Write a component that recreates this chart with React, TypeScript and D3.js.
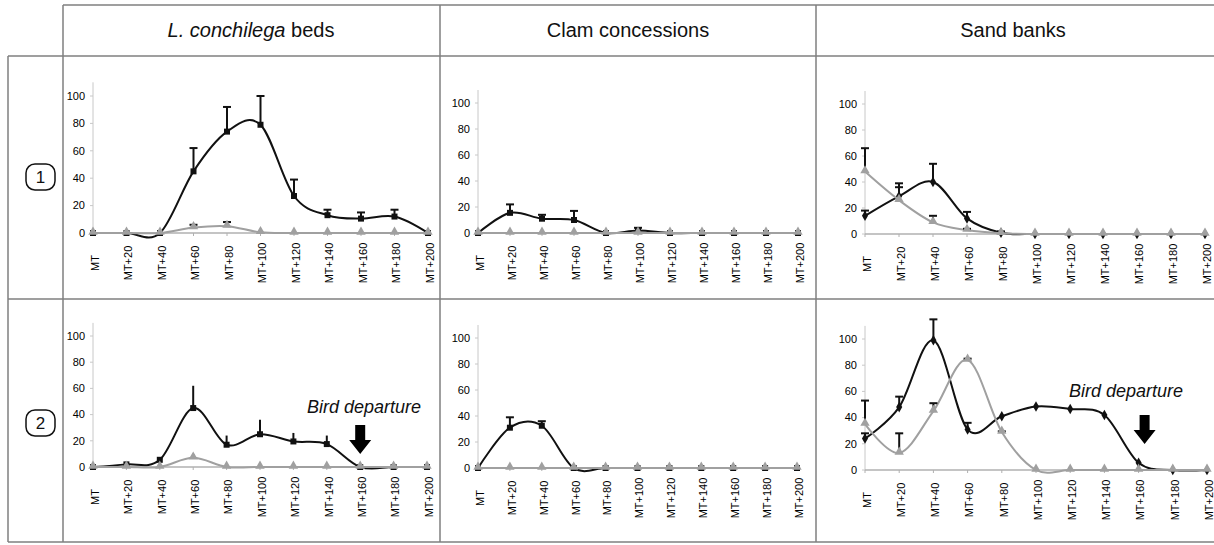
import React from 'react';
import * as d3 from 'd3';

// ---------- DATA ----------
const categories = ['MT', 'MT+20', 'MT+40', 'MT+60', 'MT+80', 'MT+100', 'MT+120', 'MT+140', 'MT+160', 'MT+180', 'MT+200'];
const yTicks = [0, 20, 40, 60, 80, 100];
const habitats = ['L. conchilega beds', 'Clam concessions', 'Sand banks'];
const rowLabels = ['1', '2'];
const departureLabel = 'Bird departure';

type V = number | null;

// Row 1 – L. conchilega beds
const r1LcBlack: V[] = [0, 0, 0, 45, 74, 79, 27, 13, 10.5, 12, 0];
const r1LcBlackUp: V[] = [null, null, null, 62, 92, 100, 39, 17, 15, 17, null];
const r1LcGrey: V[] = [0, 0, 0, 4, 5, 0.5, 0, 0, 0, 0, 0];
const r1LcGreyUp: V[] = [null, null, null, 6, 8, null, null, null, null, null, null];

// Row 1 – Clam concessions
const r1ClBlack: V[] = [0, 15.5, 11, 10, 0, 2, 0, 0, 0, 0, 0];
const r1ClBlackUp: V[] = [null, 22, 14, 17, null, 4, null, null, null, null, null];
const r1ClGrey: V[] = [0, 0, 0, 0, 0, 0, 0, 0, 0, 0, 0];
const r1ClGreyUp: V[] = [null, null, null, null, null, null, null, null, null, null, null];

// Row 1 – Sand banks
const r1SbBlack: V[] = [14, 29, 40, 12, 1, 0, 0, 0, 0, 0, 0];
const r1SbBlackUp: V[] = [18, 36, 54, 17, 2, null, null, null, null, null, null];
const r1SbGrey: V[] = [48, 26, 9, 3, 0.5, 0, 0, 0, 0, 0, 0];
const r1SbGreyUp: V[] = [66, 39, 14, 4, null, null, null, null, null, null, null];

// Row 2 – L. conchilega beds
const r2LcBlack: V[] = [0, 2, 5.5, 45, 17, 25, 19.5, 17.5, 0, 0, 0];
const r2LcBlackUp: V[] = [null, null, 7, 62, 24, 36, 26, 24, null, null, null];
const r2LcGrey: V[] = [0, 0, 0, 7, 0, 0, 0, 0, 0, 0, 0];
const r2LcGreyUp: V[] = [null, null, null, 10, null, null, null, null, null, null, null];

// Row 2 – Clam concessions
const r2ClBlack: V[] = [0, 31, 32.5, 0, 0, 0, 0, 0, 0, 0, 0];
const r2ClBlackUp: V[] = [null, 39, 36, null, null, null, null, null, null, null, null];
const r2ClGrey: V[] = [0, 0, 0, 0, 0, 0, 0, 0, 0, 0, 0];
const r2ClGreyUp: V[] = [null, null, null, null, null, null, null, null, null, null, null];

// Row 2 – Sand banks
const r2SbBlack: V[] = [24, 48, 99, 31, 41, 48.5, 46.5, 42, 5.5, 0, 0];
const r2SbBlackUp: V[] = [28, 56, 115, 36, null, null, null, null, null, null, null];
const r2SbGrey: V[] = [35, 13, 45, 84, 29, 0, 0, 0, 0, 0, 0];
const r2SbGreyUp: V[] = [53, 28, 51, 85, 29.5, null, null, null, null, null, null];

// ---------- LAYOUT ----------
type Panel = {
  x0: number; x1: number; yZero: number; y100: number;
  black: V[]; blackUp: V[]; grey: V[]; greyUp: V[];
  marker: 'square' | 'diamond'; caps: boolean;
  departure?: { textX: number; textY: number; arrowDx: number; arrowTop: number };
};

const panels: Panel[] = [
  { x0: 93, x1: 428, yZero: 233, y100: 96, black: r1LcBlack, blackUp: r1LcBlackUp, grey: r1LcGrey, greyUp: r1LcGreyUp, marker: 'square', caps: true },
  { x0: 478, x1: 798, yZero: 233, y100: 103, black: r1ClBlack, blackUp: r1ClBlackUp, grey: r1ClGrey, greyUp: r1ClGreyUp, marker: 'square', caps: true },
  { x0: 865, x1: 1205, yZero: 234, y100: 104, black: r1SbBlack, blackUp: r1SbBlackUp, grey: r1SbGrey, greyUp: r1SbGreyUp, marker: 'diamond', caps: true },
  { x0: 93, x1: 427, yZero: 467, y100: 336, black: r2LcBlack, blackUp: r2LcBlackUp, grey: r2LcGrey, greyUp: r2LcGreyUp, marker: 'square', caps: false,
    departure: { textX: 307, textY: 413, arrowDx: 0, arrowTop: 425 } },
  { x0: 478, x1: 797, yZero: 468, y100: 338, black: r2ClBlack, blackUp: r2ClBlackUp, grey: r2ClGrey, greyUp: r2ClGreyUp, marker: 'square', caps: true },
  { x0: 865, x1: 1207, yZero: 470, y100: 339, black: r2SbBlack, blackUp: r2SbBlackUp, grey: r2SbGrey, greyUp: r2SbGreyUp, marker: 'diamond', caps: true,
    departure: { textX: 1069, textY: 397, arrowDx: 6, arrowTop: 415 } },
];

const FONT = "'Liberation Sans', Arial, Helvetica, sans-serif";
const GRID = '#7f7f7f';
const GREY = '#a0a0a0';
const BLACK = '#111';

function ChartPanel({ p }: { p: Panel }) {
  const x = d3.scalePoint<string>().domain(categories).range([p.x0, p.x1]);
  const y = d3.scaleLinear().domain([0, 100]).range([p.yZero, p.y100]);
  const yTop = y(110);
  const line = d3.line<V>()
    .defined((d) => d !== null)
    .x((_, i) => x(categories[i]) as number)
    .y((d) => y(d as number))
    .curve(d3.curveCardinal.tension(0));

  const sq = d3.symbol().type(d3.symbolSquare).size(36)()!;
  const dia = d3.symbol().type(d3.symbolDiamond).size(32)()!;
  const tri = d3.symbol().type(d3.symbolTriangle).size(38)()!;
  const blackSym = p.marker === 'square' ? sq : dia;

  const errBars = (vals: V[], ups: V[], key: string) =>
    ups.map((u, i) => {
      if (u === null || vals[i] === null) return null;
      const cx = x(categories[i]) as number;
      return (
        <g key={key + i}>
          <line x1={cx} x2={cx} y1={y(vals[i] as number)} y2={y(u)} stroke={BLACK} strokeWidth={2} />
          {p.caps && <line x1={cx - 4} x2={cx + 4} y1={y(u)} y2={y(u)} stroke={BLACK} strokeWidth={2} />}
        </g>
      );
    });

  return (
    <g>
      {/* y axis */}
      <line x1={p.x0} x2={p.x0} y1={p.yZero} y2={yTop} stroke="#c8c8c8" strokeWidth={1} />
      {yTicks.map((t) => (
        <g key={t}>
          <line x1={p.x0 - 3} x2={p.x0} y1={y(t)} y2={y(t)} stroke="#c8c8c8" />
          <text x={p.x0 - 8} y={y(t)} dy="0.35em" textAnchor="end" fontSize={11} fill="#000" fontFamily={FONT}>{t}</text>
        </g>
      ))}
      {/* x axis */}
      <line x1={p.x0} x2={p.x1} y1={p.yZero} y2={p.yZero} stroke="#b0b0b0" strokeWidth={1.5} />
      {categories.map((c) => {
        const cx = x(c) as number;
        return (
          <g key={c}>
            <line x1={cx} x2={cx} y1={p.yZero} y2={p.yZero + 3} stroke="#b0b0b0" />
            <text transform={`translate(${cx + 2},${p.yZero + 30}) rotate(-90)`} dy="0.35em" textAnchor="middle" fontSize={11} fill="#000" fontFamily={FONT}>{c}</text>
          </g>
        );
      })}
      {/* series */}
      <path d={line(p.black) || ''} fill="none" stroke={BLACK} strokeWidth={2} />
      {errBars(p.black, p.blackUp, 'b')}
      {p.black.map((v, i) => v === null ? null : (
        <path key={'bm' + i} d={blackSym} transform={`translate(${x(categories[i])},${y(v)})`} fill={BLACK} />
      ))}
      <path d={line(p.grey) || ''} fill="none" stroke={GREY} strokeWidth={2} />
      {errBars(p.grey, p.greyUp, 'g')}
      {p.grey.map((v, i) => v === null ? null : (
        <path key={'gm' + i} d={tri} transform={`translate(${x(categories[i])},${y(v) - 1})`} fill={GREY} />
      ))}
      {p.departure && (() => {
        const ax = (x(categories[8]) as number) + p.departure.arrowDx;
        const t = p.departure.arrowTop;
        const arrow = `M${ax - 5},${t} L${ax + 5},${t} L${ax + 5},${t + 15} L${ax + 11},${t + 15} L${ax},${t + 29} L${ax - 11},${t + 15} L${ax - 5},${t + 15} Z`;
        return (
          <g>
            <text x={p.departure.textX} y={p.departure.textY} fontSize={18} fontStyle="italic" fill="#111" fontFamily={FONT}>{departureLabel}</text>
            <path d={arrow} fill="#000" />
          </g>
        );
      })()}
    </g>
  );
}

export default function App() {
  const colCenters = [251, 628, 1013];
  const rowCenters = [177, 423];
  return (
    <svg width={1214} height={545} style={{ position: 'absolute', left: 0, top: 0, background: '#fff' }} fontFamily={FONT}>
      <rect x={0} y={0} width={1214} height={545} fill="#fff" />
      {/* table lines */}
      <g stroke={GRID} strokeWidth={1.5} fill="none">
        <line x1={63} x2={1214} y1={5} y2={5} />
        <line x1={8} x2={1214} y1={56} y2={56} />
        <line x1={8} x2={1214} y1={299} y2={299} />
        <line x1={8} x2={1214} y1={542} y2={542} />
        <line x1={8} x2={8} y1={56} y2={542} />
        <line x1={63} x2={63} y1={5} y2={542} />
        <line x1={440} x2={440} y1={5} y2={542} />
        <line x1={816} x2={816} y1={5} y2={542} />
      </g>
      {/* headers */}
      <text x={colCenters[0]} y={37} textAnchor="middle" fontSize={20} fill="#111">
        <tspan fontStyle="italic">{habitats[0].replace(' beds', '')}</tspan>
        <tspan>{' beds'}</tspan>
      </text>
      <text x={colCenters[1]} y={37} textAnchor="middle" fontSize={20} fill="#111">{habitats[1]}</text>
      <text x={colCenters[2]} y={37} textAnchor="middle" fontSize={20} fill="#111">{habitats[2]}</text>
      {/* row labels */}
      {rowLabels.map((r, i) => (
        <g key={r}>
          <rect x={26} y={rowCenters[i] - 13} width={29} height={26} rx={9} fill="#fff" stroke="#111" strokeWidth={1.5} />
          <text x={40.5} y={rowCenters[i]} dy="0.36em" textAnchor="middle" fontSize={17} fill="#111">{r}</text>
        </g>
      ))}
      {panels.map((p, i) => <ChartPanel key={i} p={p} />)}
    </svg>
  );
}
